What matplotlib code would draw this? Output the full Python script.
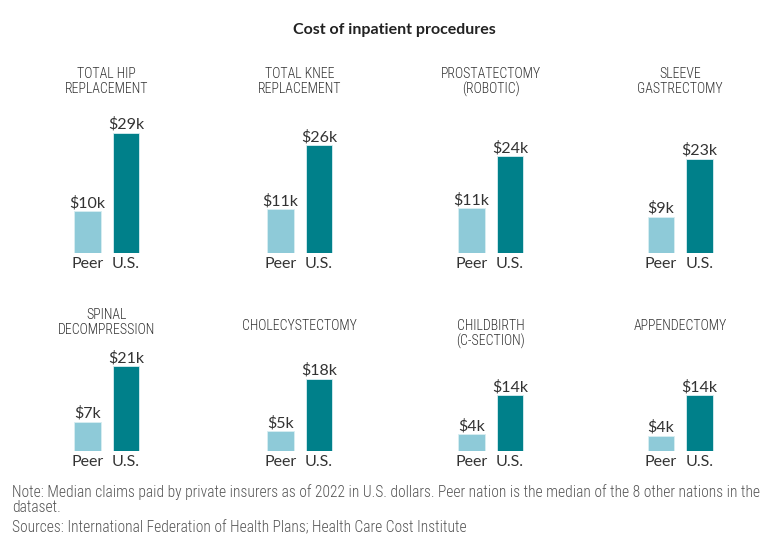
import matplotlib
matplotlib.use('Agg')
import matplotlib.pyplot as plt

# values in $ thousands
procedures = ['TOTAL HIP\nREPLACEMENT', 'TOTAL KNEE\nREPLACEMENT', 'PROSTATECTOMY\n(ROBOTIC)',
              'SLEEVE\nGASTRECTOMY', 'SPINAL\nDECOMPRESSION', 'CHOLECYSTECTOMY',
              'CHILDBIRTH\n(C-SECTION)', 'APPENDECTOMY']
peer = [10.1, 10.6, 10.8, 8.8, 7.0, 4.7, 3.9, 3.6]
us = [29.0, 26.0, 23.4, 22.8, 20.3, 17.3, 13.4, 13.3]
peer_labels = ['$10k', '$11k', '$11k', '$9k', '$7k', '$5k', '$4k', '$4k']
us_labels = ['$29k', '$26k', '$24k', '$23k', '$21k', '$18k', '$14k', '$14k']
bar_names = ['Peer', 'U.S.']

title = 'Cost of inpatient procedures'
footer = ['Note: Median claims paid by private insurers as of 2022 in U.S. dollars. Peer nation is the median of the 8 other nations in the',
          'dataset.',
          'Sources: International Federation of Health Plans; Health Care Cost Institute']

W, H = 772, 542
PEER_C = '#8ecad8'
US_C = '#00808a'
TXT = '#333333'
NARROW = ['Roboto Condensed', 'DejaVu Sans']
REG = ['Lato', 'DejaVu Sans']

fig = plt.figure(figsize=(W / 100, H / 100), dpi=100)

col_x = [87.5, 280.5, 471.5, 661]   # pixel centre of the first bar in each column
row_base = [253, 450.5]            # pixel y of the bar baselines
title_y = [[74, 74, 74, 74], [315, 326, 326, 326]]
unit = 38.5                        # pixels between the two bars
ppk = 4.14                         # pixels per $1k
ymax = 30

for i, name in enumerate(procedures):
    r, c = divmod(i, 4)
    left = col_x[c] - 0.5 * unit
    ax = fig.add_axes([left / W, (H - row_base[r]) / H, 2 * unit / W, ymax * ppk / H])
    ax.set_xlim(-0.5, 1.5)
    ax.set_ylim(0, ymax)
    ax.axis('off')
    vals = [peer[i], us[i]]
    labs = [peer_labels[i], us_labels[i]]
    ax.bar([0, 1], vals, width=0.69, color=[PEER_C, US_C], edgecolor='#d8eef2', linewidth=0.6)
    for x, v, lab, bn in zip([0, 1], vals, labs, bar_names):
        ax.annotate(lab, (x, v), xytext=(0, 4), textcoords='offset pixels', ha='center', va='baseline',
                    fontsize=11.5, color=TXT, family=REG, annotation_clip=False)
        ax.annotate(bn, (x, 0), xytext=(0, -4), textcoords='offset pixels', ha='center', va='top',
                    fontsize=11.5, color=TXT, family=REG, annotation_clip=False)
    fig.text((col_x[c] + 0.5 * unit) / W, 1 - (title_y[r][c] - 7) / H, name, ha='center', va='top',
             fontsize=10, color=TXT, family=NARROW, fontweight='light', linespacing=1.05)

fig.text(394.5 / W, 1 - 30 / H, title, ha='center', va='center', fontsize=11.5, fontweight='bold',
         color='#222222', family=REG)
for line, yy in zip(footer, [492, 508, 528]):
    fig.text(12 / W, 1 - yy / H, line, ha='left', va='center', fontsize=11.2, color='#555555',
             family=NARROW, fontweight='light')

fig.savefig('out.png', dpi=100)
